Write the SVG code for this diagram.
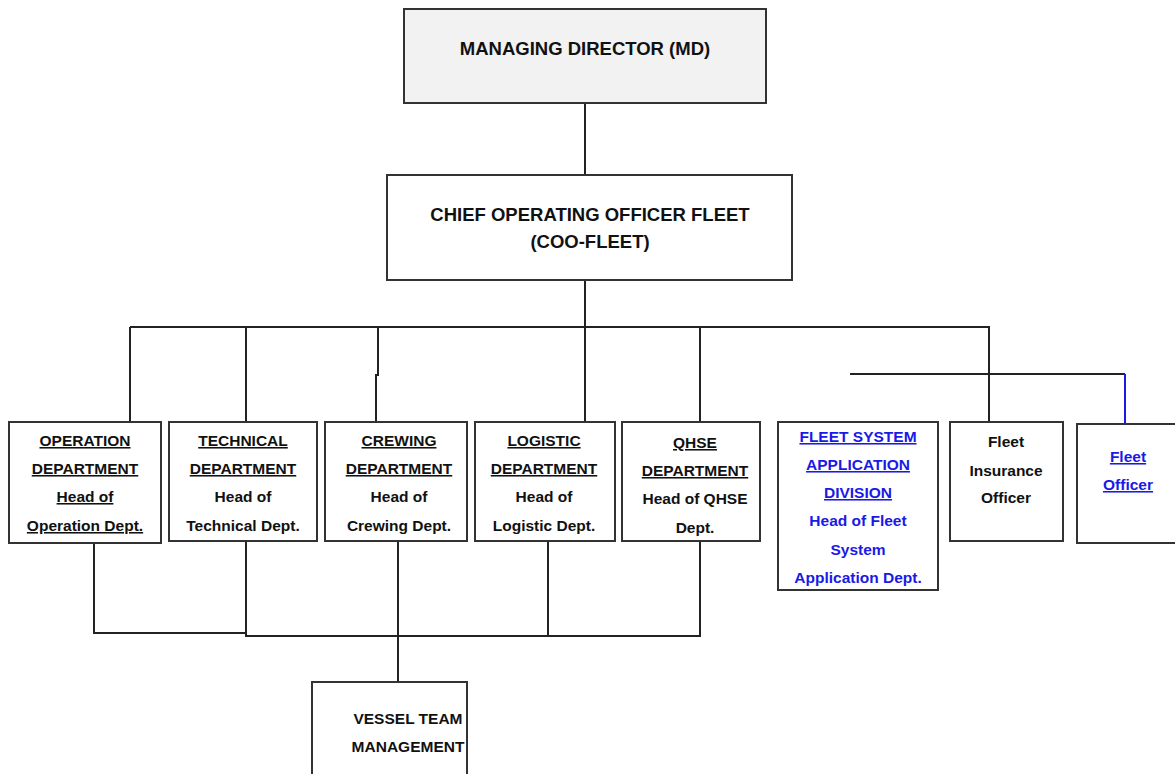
<svg xmlns="http://www.w3.org/2000/svg" width="1175" height="774" viewBox="0 0 1175 774">
<style>
.box{fill:#fff;stroke:#333;stroke-width:2}
.md{fill:#f2f2f2;stroke:#333;stroke-width:2}
.ln{stroke:#222;stroke-width:2;fill:none}
.bl{stroke:#1a1ae6;stroke-width:2;fill:none}
text{font-family:"Liberation Sans",Arial,sans-serif;font-size:15.5px;font-weight:bold;fill:#111;text-anchor:middle}
.big{font-size:18.5px}
.u{text-decoration:underline}
.blue{fill:#1a1ae6}
</style>
<rect width="1175" height="774" fill="#fff"/>
<g id="connectors">
<path class="ln" d="M585 103V175"/>
<path class="ln" d="M585 280V327"/>
<path class="ln" d="M130 327H990"/>
<path class="ln" d="M130 327V422"/>
<path class="ln" d="M246 327V422"/>
<path class="ln" d="M378 327V375H376V422"/>
<path class="ln" d="M585 327V422"/>
<path class="ln" d="M700 327V422"/>
<path class="ln" d="M989 327V422"/>
<path class="ln" d="M850 374H1125"/>
<path class="bl" d="M1125 374V424"/>
<path class="ln" d="M94 543V633H246"/>
<path class="ln" d="M246 541V636H548"/>
<path class="ln" d="M548 541V636H700V541"/>
<path class="ln" d="M398 541V682"/>
</g>
<g id="md">
<rect class="md" x="404" y="9" width="362" height="94"/>
<text class="big" x="585" y="55">MANAGING DIRECTOR (MD)</text>
</g>
<g id="coo">
<rect class="box" x="387" y="175" width="405" height="105"/>
<text class="big" x="590" y="221">CHIEF OPERATING OFFICER FLEET</text>
<text class="big" x="590" y="248">(COO-FLEET)</text>
</g>
<g id="operation">
<rect class="box" x="9" y="422" width="152" height="121"/>
<text class="u" x="85" y="446">OPERATION</text>
<text class="u" x="85" y="474">DEPARTMENT</text>
<text class="u" x="85" y="502">Head of</text>
<text class="u" x="85" y="531">Operation Dept.</text>
</g>
<g id="technical">
<rect class="box" x="169" y="422" width="148" height="119"/>
<text class="u" x="243" y="446">TECHNICAL</text>
<text class="u" x="243" y="474">DEPARTMENT</text>
<text x="243" y="502">Head of</text>
<text x="243" y="531">Technical Dept.</text>
</g>
<g id="crewing">
<rect class="box" x="325" y="422" width="142" height="119"/>
<text class="u" x="399" y="446">CREWING</text>
<text class="u" x="399" y="474">DEPARTMENT</text>
<text x="399" y="502">Head of</text>
<text x="399" y="531">Crewing Dept.</text>
</g>
<g id="logistic">
<rect class="box" x="475" y="422" width="140" height="119"/>
<text class="u" x="544" y="446">LOGISTIC</text>
<text class="u" x="544" y="474">DEPARTMENT</text>
<text x="544" y="502">Head of</text>
<text x="544" y="531">Logistic Dept.</text>
</g>
<g id="qhse">
<rect class="box" x="622" y="422" width="138" height="119"/>
<text class="u" x="695" y="448">QHSE</text>
<text class="u" x="695" y="476">DEPARTMENT</text>
<text x="695" y="504">Head of QHSE</text>
<text x="695" y="533">Dept.</text>
</g>
<g id="fleet-system">
<rect class="box" x="778" y="422" width="160" height="168"/>
<text class="u blue" x="858" y="442">FLEET SYSTEM</text>
<text class="u blue" x="858" y="470">APPLICATION</text>
<text class="u blue" x="858" y="498">DIVISION</text>
<text class="blue" x="858" y="526">Head of Fleet</text>
<text class="blue" x="858" y="555">System</text>
<text class="blue" x="858" y="583">Application Dept.</text>
</g>
<g id="fleet-insurance">
<rect class="box" x="950" y="422" width="113" height="119"/>
<text x="1006" y="447">Fleet</text>
<text x="1006" y="476">Insurance</text>
<text x="1006" y="503">Officer</text>
</g>
<g id="fleet-officer">
<rect class="box" x="1077" y="424" width="99" height="119"/>
<text class="u blue" x="1128" y="462">Fleet</text>
<text class="u blue" x="1128" y="490">Officer</text>
</g>
<g id="vessel">
<path class="box" d="M312 774V682H467V774"/>
<text x="408" y="724">VESSEL TEAM</text>
<text x="408" y="752">MANAGEMENT</text>
</g>
</svg>
